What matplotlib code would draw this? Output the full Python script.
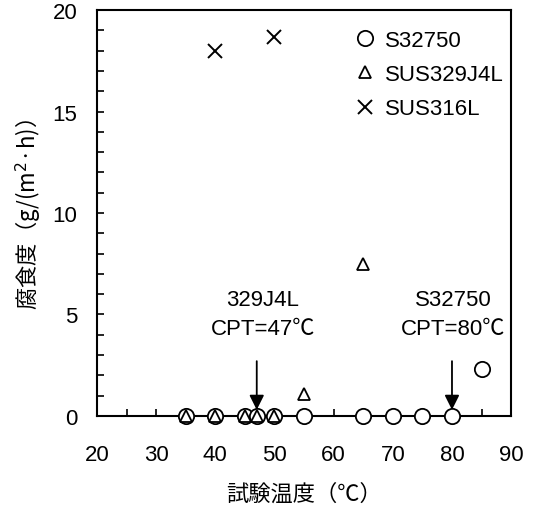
import matplotlib
matplotlib.use("Agg")
import numpy as np
from matplotlib import pyplot as plt
from matplotlib.ticker import MultipleLocator

plt.rcParams['font.family'] = ['Liberation Sans', 'Noto Sans CJK JP', 'DejaVu Sans']

# data
s32750_temp = [35, 40, 45, 47, 50, 55, 65, 70, 75, 80, 85]
s32750_rate = [0, 0, 0, 0, 0, 0, 0, 0, 0, 0, 2.3]
sus329_temp = [35, 40, 45, 47, 50, 55, 65]
sus329_rate = [0, 0, 0, 0, 0, 1.1, 7.5]
sus316_temp = [40, 50]
sus316_rate = [18.0, 18.7]

cpt_329 = 47
cpt_s32750 = 80

fig = plt.figure(figsize=(5.33, 5.06), dpi=100)
ax = fig.add_axes([0.182, 0.176, 0.777, 0.802])

ax.plot(s32750_temp, s32750_rate, 'o', ms=11, mfc='white', mec='black', mew=1.3,
        ls='none', clip_on=False, zorder=5, label='S32750')
ax.plot(sus329_temp, sus329_rate, '^', ms=8.5, mfc='white', mec='black', mew=1.3,
        ls='none', clip_on=False, zorder=6, label='SUS329J4L')
ax.plot(sus316_temp, sus316_rate, 'x', ms=10, mec='black', mew=1.4,
        ls='none', clip_on=False, zorder=6, label='SUS316L')

arrow = dict(arrowstyle='-|>', color='black', lw=1.3, mutation_scale=22,
             shrinkA=0, shrinkB=0)
ax.annotate('', xy=(cpt_329, 0.3), xytext=(cpt_329, 2.7), arrowprops=arrow, zorder=7)
ax.annotate('', xy=(cpt_s32750, 0.3), xytext=(cpt_s32750, 2.7), arrowprops=arrow, zorder=7)
ax.text(48, 5.75, '329J4L', ha='center', va='center', fontsize=16)
ax.text(48, 4.3, 'CPT=47℃', ha='center', va='center', fontsize=16)
ax.text(80.2, 5.75, 'S32750', ha='center', va='center', fontsize=16)
ax.text(80.2, 4.3, 'CPT=80℃', ha='center', va='center', fontsize=16)

ax.set_xlim(20, 90)
ax.set_ylim(0, 20)
ax.xaxis.set_major_locator(MultipleLocator(10))
ax.xaxis.set_minor_locator(MultipleLocator(5))
ax.yaxis.set_major_locator(MultipleLocator(5))
ax.yaxis.set_minor_locator(MultipleLocator(1))
ax.tick_params(which='both', direction='in', labelsize=16, width=1.2, length=5)
ax.tick_params(axis='x', which='major', pad=20)
ax.tick_params(axis='y', which='major', pad=14)
for s in ax.spines.values():
    s.set_linewidth(1.5)

ax.set_xlabel('試験温度（℃）', fontsize=16, family=['Noto Sans CJK JP'], labelpad=12)
ax.set_ylabel('腐食度（g/(m$^2$·h)）', fontsize=16, family=['Noto Sans CJK JP', 'DejaVu Sans'], labelpad=7)

ax.legend(loc='upper right', frameon=False, fontsize=16, handlelength=0.8,
          handletextpad=0.5, labelspacing=0.6, borderaxespad=0.3,
          bbox_to_anchor=(1.02, 0.99))

fig.savefig('out.png', dpi=100)
